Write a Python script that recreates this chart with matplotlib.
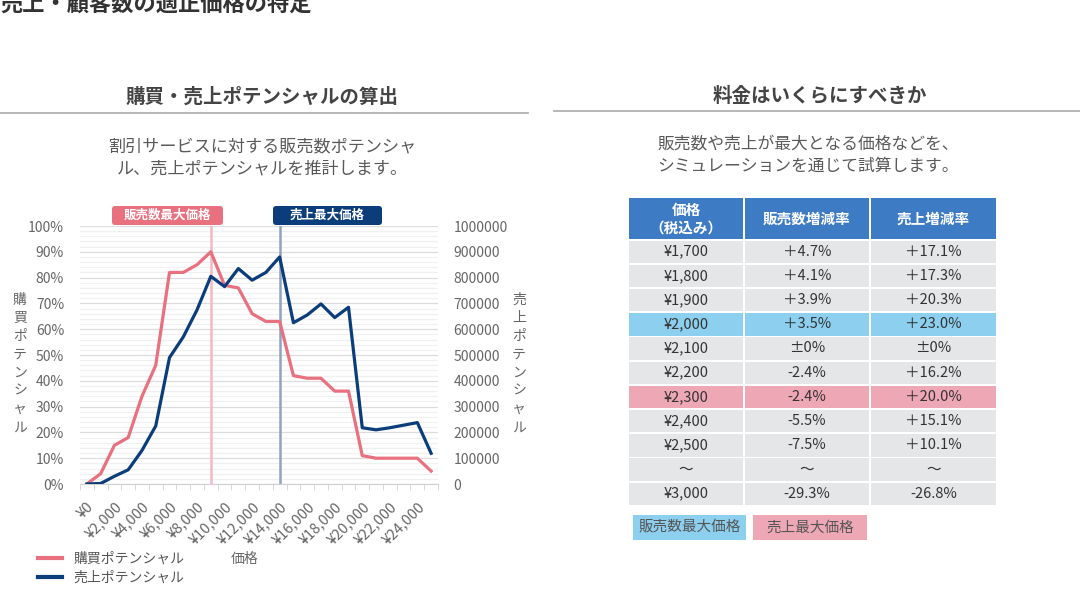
import matplotlib
matplotlib.use('Agg')
import matplotlib.pyplot as plt
from matplotlib.patches import Rectangle, FancyBboxPatch
from matplotlib.lines import Line2D

plt.rcParams['font.family'] = ['Noto Sans CJK JP', 'DejaVu Sans']

# データ（グラフ）
価格 = list(range(0, 26000, 1000))
購買ポテンシャル = [0, 4, 15, 18, 34, 46, 82, 82, 85, 90, 77, 76, 66, 63, 63,
                42, 41, 41, 36, 36, 11, 10, 10, 10, 10, 5]
売上ポテンシャル = [0, 2000, 30000, 55000, 130000, 225000, 490000, 570000, 675000,
                805000, 765000, 835000, 790000, 820000, 880000, 625000, 655000,
                698000, 645000, 685000, 218000, 210000, 218000, 228000, 238000, 119000]
販売数最大 = 9000
売上最大 = 14000

# データ（表）
表ヘッダ = ['価格\n（税込み）', '販売数増減率', '売上増減率']
表価格 = ['¥1,700', '¥1,800', '¥1,900', '¥2,000', '¥2,100', '¥2,200',
       '¥2,300', '¥2,400', '¥2,500', '～', '¥3,000']
販売数増減率 = ['＋4.7%', '＋4.1%', '＋3.9%', '＋3.5%', '±0%', '-2.4%',
          '-2.4%', '-5.5%', '-7.5%', '～', '-29.3%']
売上増減率 = ['＋17.1%', '＋17.3%', '＋20.3%', '＋23.0%', '±0%', '＋16.2%',
         '＋20.0%', '＋15.1%', '＋10.1%', '～', '-26.8%']
青行 = '¥2,000'
赤行 = '¥2,300'

PINK = '#e8707f'
NAVY = '#0b3d7a'
GRAY = '#595959'

W, H = 1080, 607
fig = plt.figure(figsize=(W / 100, H / 100), dpi=100)

# 全体用（ピクセル座標）
bg = fig.add_axes([0, 0, 1, 1])
bg.set_xlim(0, W)
bg.set_ylim(H, 0)
bg.axis('off')

bg.text(0, 4, '売上・顧客数の適正価格の特定', fontsize=16, fontweight='bold',
        color='#333333', ha='left', va='center')

bg.text(262, 97, '購買・売上ポテンシャルの算出', fontsize=14, fontweight='bold',
        color='#444444', ha='center', va='center')
bg.plot([0, 528], [113, 113], color='#aaaaaa', lw=1.2)
bg.text(262, 146, '割引サービスに対する販売数ポテンシャ', fontsize=12.3,
        color=GRAY, ha='center', va='center')
bg.text(262, 168, 'ル、売上ポテンシャルを推計します。', fontsize=12.3,
        color=GRAY, ha='center', va='center')

bg.text(820, 96, '料金はいくらにすべきか', fontsize=14, fontweight='bold',
        color='#444444', ha='center', va='center')
bg.plot([554, 1080], [111, 111], color='#aaaaaa', lw=1.2)
bg.text(808, 144, '販売数や売上が最大となる価格などを、', fontsize=12.1,
        color=GRAY, ha='center', va='center')
bg.text(808, 166, 'シミュレーションを通じて試算します。', fontsize=12.1,
        color=GRAY, ha='center', va='center')

# グラフ
ax = fig.add_axes([80 / W, 1 - 484 / H, 358 / W, 258 / H])
ax.patch.set_visible(False)
ax2 = ax.twinx()
x = list(range(len(価格)))

ax.set_xlim(-0.5, len(価格) - 0.5)
ax.set_ylim(0, 100)
ax2.set_ylim(0, 1000000)

for v in range(0, 101, 2):
    ax.axhline(v, color='#dcdcdc' if v % 10 == 0 else '#f0f0f0', lw=0.9, zorder=0)

ax.axvline(価格.index(販売数最大), color='#f5b8c2', lw=1.8, zorder=1)
ax.axvline(価格.index(売上最大), color='#8fa3c2', lw=1.8, zorder=1)

ax.plot(x, 購買ポテンシャル, color=PINK, lw=2.3, zorder=3)
ax2.plot(x, 売上ポテンシャル, color=NAVY, lw=2.3, zorder=3)

for a in (ax, ax2):
    for s in a.spines.values():
        s.set_visible(False)
ax.spines['bottom'].set_visible(True)
ax.spines['bottom'].set_color('#d0d0d0')

ax.set_yticks(range(0, 101, 10))
ax.set_yticklabels([f'{v}%' for v in range(0, 101, 10)])
ax2.set_yticks(range(0, 1000001, 100000))
ax2.set_yticklabels([str(v) for v in range(0, 1000001, 100000)])
ax.tick_params(axis='y', length=0, labelsize=10, labelcolor='#666666', pad=11.5)
ax2.tick_params(axis='y', length=0, labelsize=10, labelcolor='#666666', pad=11)

ax.set_xticks(x[::2])
ax.set_xticklabels([f'¥{p:,}' for p in 価格[::2]], rotation=45, ha='right',
                   va='top', rotation_mode='anchor')
ax.set_xticks([i - 0.5 for i in range(len(価格) + 1)], minor=True)
ax.tick_params(axis='x', which='major', length=0, labelsize=10.5,
               labelcolor='#666666', pad=11)
ax.tick_params(axis='x', which='minor', length=4, color='#d0d0d0')

# 縦書きの軸ラベル
for i, ch in enumerate('購買ポテンシャル'):
    bg.text(20, 300 + i * 18.2, ch, fontsize=10, color='#666666', ha='center', va='center')
for i, ch in enumerate('売上ポテンシャル'):
    bg.text(519, 300 + i * 18.2, ch, fontsize=10, color='#666666', ha='center', va='center')

bg.text(245, 559, '価格', fontsize=10, color='#666666', ha='center', va='center')

# 注記ボックス
for x0, x1, label, col in [(112, 223, '販売数最大価格', PINK), (273, 382, '売上最大価格', NAVY)]:
    bg.add_patch(FancyBboxPatch((x0 + 3, 206 + 3), x1 - x0 - 6, 19 - 6,
                                boxstyle='round,pad=3', fc=col, ec='none'))
    bg.text((x0 + x1) / 2, 215.5, label, fontsize=9, fontweight='bold',
            color='white', ha='center', va='center')

fig.legend(handles=[Line2D([], [], color=PINK, lw=3), Line2D([], [], color=NAVY, lw=3)],
           labels=['購買ポテンシャル', '売上ポテンシャル'],
           loc='upper left', bbox_to_anchor=(38 / W, 1 - 552 / H), frameon=False,
           fontsize=10, labelcolor='#555555', handlelength=1.75, handletextpad=0.8,
           labelspacing=0.35, borderpad=0, borderaxespad=0)

# 表
cols = [(629, 743), (745, 869), (871, 996)]
bg_head = '#3d7cc4'
for (c0, c1), h in zip(cols, 表ヘッダ):
    bg.add_patch(Rectangle((c0, 198), c1 - c0, 41, fc=bg_head, ec='none'))
    bg.text((c0 + c1) / 2, 218.5, h, fontsize=10.5, fontweight='bold', color='white',
            ha='center', va='center', linespacing=1.15)

pitch = 24.2
for i, row in enumerate(zip(表価格, 販売数増減率, 売上増減率)):
    top = 240.5 + i * pitch
    if row[0] == 青行:
        fc = '#8dcfee'
    elif row[0] == 赤行:
        fc = '#eea7b5'
    else:
        fc = '#e5e6e7'
    for (c0, c1), val in zip(cols, row):
        bg.add_patch(Rectangle((c0, top), c1 - c0, pitch - 1.8, fc=fc, ec='none'))
        bg.text((c0 + c1) / 2, top + (pitch - 1.8) / 2, val, fontsize=10.5,
                color='#333333', ha='center', va='center')

bg.add_patch(Rectangle((633, 515), 113, 25, fc='#8dcfee', ec='none'))
bg.text(689.5, 527.5, '販売数最大価格', fontsize=10.5, color='#555555', ha='center', va='center')
bg.add_patch(Rectangle((753, 515), 114, 25, fc='#eea7b5', ec='none'))
bg.text(810, 527.5, '売上最大価格', fontsize=10.5, color='#555555', ha='center', va='center')

fig.savefig('out.png', dpi=100)
